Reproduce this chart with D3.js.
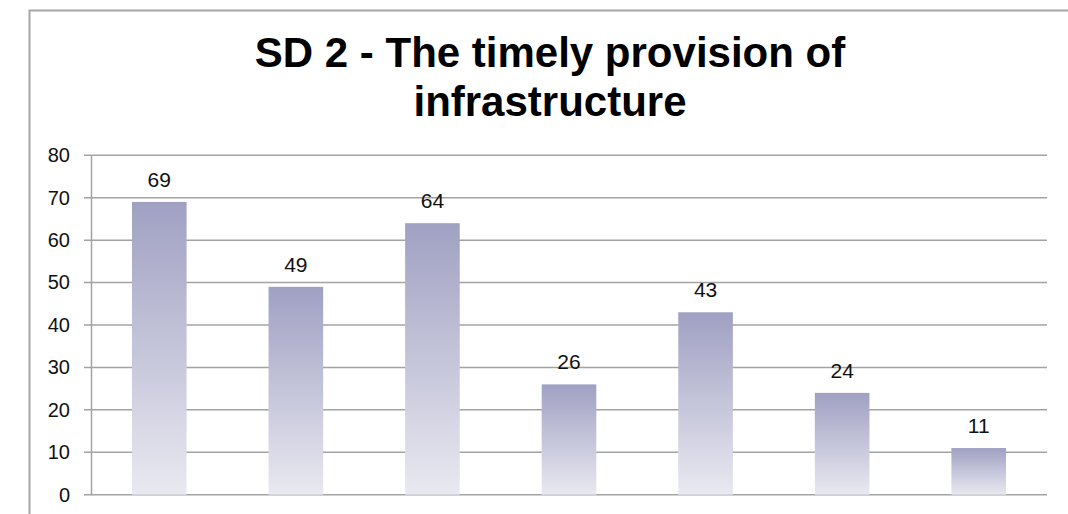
<!DOCTYPE html>
<html lang="en">
	<head>
		<meta charset="utf-8">
		<title>SD 2 - The timely provision of infrastructure</title>
		<script type="text/javascript" src="https://cdn.jsdelivr.net/npm/d3@7"></script>
		<style type="text/css">
		body{margin:0; background:#fff;}
		svg{display:block;}
		</style>
	</head>
	<body>
		<script type="text/javascript">

			// data
			var categories = ["A", "B", "C", "D", "E", "F", "G"];
			var values = [69, 49, 64, 26, 43, 24, 11];
			var yTicks = [0, 10, 20, 30, 40, 50, 60, 70, 80];
			var titleLines = ["SD 2 - The timely provision of", "infrastructure"];

			//Width and height
			var w = 1068;
			var h = 514;
			var plot = {left: 91, right: 1047, top: 155.3, bottom: 494.7};

			var svg = d3.select("body")
						.append("svg")
						.attr("width", w)
						.attr("height", h);

			//gradient for the bars
			var grad = svg.append("defs").append("linearGradient")
				.attr("id", "barGrad")
				.attr("x1", 0).attr("y1", 0)
				.attr("x2", 0).attr("y2", 1);
			grad.append("stop").attr("offset", "0%").attr("stop-color", "#a0a0c3");
			grad.append("stop").attr("offset", "100%").attr("stop-color", "#e9e9f1");

			//chart border (cut at right and bottom)
			svg.append("rect")
				.attr("x", 29.5)
				.attr("y", 10.5)
				.attr("width", 1100)
				.attr("height", 600)
				.attr("fill", "none")
				.attr("stroke", "#a6a6a6")
				.attr("stroke-width", 2);

			var xScale = d3.scaleBand()
							.domain(categories)
							.range([plot.left, plot.right])
							.paddingInner(0.6)
							.paddingOuter(0.3);

			var yScale = d3.scaleLinear()
							.domain([0, 80])
							.range([plot.bottom, plot.top]);

			//gridlines
			svg.append("g")
				.selectAll("line")
				.data(yTicks)
				.enter()
				.append("line")
				.attr("x1", 84)
				.attr("x2", plot.right)
				.attr("y1", function(d) { return yScale(d); })
				.attr("y2", function(d) { return yScale(d); })
				.attr("stroke", "#a3a3a3")
				.attr("stroke-width", 1.5);

			//y axis
			var yAxis = d3.axisLeft(yScale)
							.tickValues(yTicks)
							.tickSize(0)
							.tickPadding(21);

			var yG = svg.append("g")
				.attr("transform", "translate(" + plot.left + ",0)")
				.call(yAxis);
			yG.select(".domain")
				.attr("stroke", "#a3a3a3")
				.attr("stroke-width", 1.5);
			yG.selectAll("text")
				.attr("font-family", "Liberation Sans, Arial, sans-serif")
				.attr("font-size", "20px")
				.attr("fill", "#111");

			//bars
			svg.selectAll("rect.bar")
			   .data(values)
			   .enter()
			   .append("rect")
			   .attr("class", "bar")
			   .attr("x", function(d, i) { return xScale(categories[i]); })
			   .attr("y", function(d) { return yScale(d); })
			   .attr("width", xScale.bandwidth())
			   .attr("height", function(d) { return yScale(0) - yScale(d); })
			   .attr("fill", "url(#barGrad)");

			//labels
			svg.selectAll("text.lbl")
			   .data(values)
			   .enter()
			   .append("text")
			   .attr("class", "lbl")
			   .text(function(d) { return d; })
			   .attr("text-anchor", "middle")
			   .attr("x", function(d, i) { return xScale(categories[i]) + xScale.bandwidth() / 2; })
			   .attr("y", function(d) { return yScale(d) - 15; })
			   .attr("font-family", "Liberation Sans, Arial, sans-serif")
			   .attr("font-size", "21px")
			   .attr("fill", "#111");

			//title
			svg.selectAll("text.title")
			   .data(titleLines)
			   .enter()
			   .append("text")
			   .attr("class", "title")
			   .text(function(d) { return d; })
			   .attr("text-anchor", "middle")
			   .attr("x", 550)
			   .attr("y", function(d, i) { return 67 + i * 49; })
			   .attr("font-family", "Liberation Sans, Arial, sans-serif")
			   .attr("font-weight", "bold")
			   .attr("font-size", "42px")
			   .attr("fill", "#000");
		</script>
	</body>
</html>
